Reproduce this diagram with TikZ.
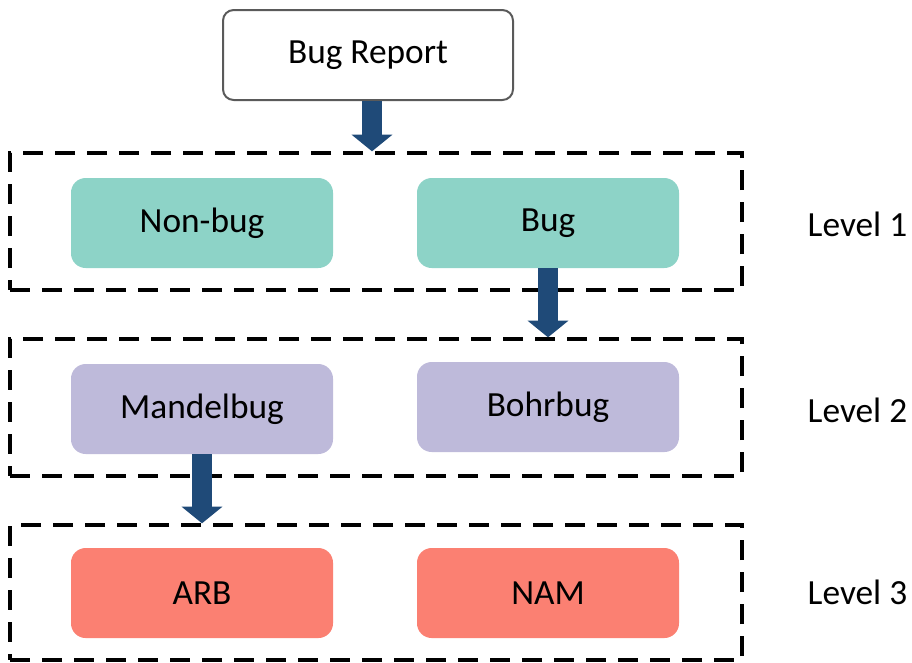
\documentclass[tikz,border=0pt]{standalone}
\usepackage{fontspec}
\setmainfont{Carlito}
\usetikzlibrary{arrows.meta}

\definecolor{tealfill}{RGB}{141,211,199}
\definecolor{lilacfill}{RGB}{190,186,218}
\definecolor{salmonfill}{RGB}{251,128,114}
\definecolor{arrowblue}{RGB}{31,74,120}

\tikzset{
  levelbox/.style={draw=black, line width=2.5pt, dash pattern=on 15pt off 9pt,
    minimum width=549pt, minimum height=102.75pt, inner sep=0pt},
  catbox/.style={rounded corners=11pt, minimum width=196.5pt, minimum height=67.5pt,
    inner sep=0pt, font=\fontsize{26.5}{32}\selectfont},
  fatarrow/.style={draw=arrowblue, line width=15pt,
    -{Triangle[width=30pt,length=12.5pt]}},
}

\begin{document}
\begin{tikzpicture}[x=0.75pt,y=0.75pt,yscale=-1,xscale=1]
\useasboundingbox (0,0) rectangle (912,662);

%Rounded Rect: input report
\node [draw={rgb,255:red,90;green,90;blue,90}, line width=1.5pt, rounded corners=8pt,
  minimum width=217.5pt, minimum height=67.5pt, font=\fontsize{26.5}{32}\selectfont]
  (report) at (368,55) {Bug Report};

%Dashed Rects: levels
\node [levelbox] (lvlone) at (376,221.5) {};
\node [levelbox] (lvltwo) at (376,407.5) {};
\node [levelbox, minimum height=101.25pt] (lvlthree) at (376,592.5) {};

%Level 1
\node [catbox, fill=tealfill] (nonbug) at (202,223) {Non-bug};
\node [catbox, fill=tealfill] (bug) at (548,223) {Bug};
%Level 2
\node [catbox, fill=lilacfill] (mandel) at (202,409) {Mandelbug};
\node [catbox, fill=lilacfill] (bohr) at (548,407) {Bohrbug};
%Level 3
\node [catbox, fill=salmonfill] (arb) at (202,593) {ARB};
\node [catbox, fill=salmonfill] (nam) at (548,593) {NAM};

% Text Node
\node [anchor=west, font=\fontsize{26.5}{32}\selectfont] (lblone) at (803,224) {Level 1};
% Text Node
\node [anchor=west, font=\fontsize{26.5}{32}\selectfont] (lbltwo) at (803,410) {Level 2};
% Text Node
\node [anchor=west, font=\fontsize{26.5}{32}\selectfont] (lblthree) at (803,592) {Level 3};

%Block Arrows
\draw [fatarrow] (report.south -| 372,0) -- (lvlone.north -| 372,0);
\draw [fatarrow] (bug.south) -- (lvltwo.north -| bug.south);
\draw [fatarrow] (mandel.south) -- (lvlthree.north -| mandel.south);

\end{tikzpicture}
\end{document}
